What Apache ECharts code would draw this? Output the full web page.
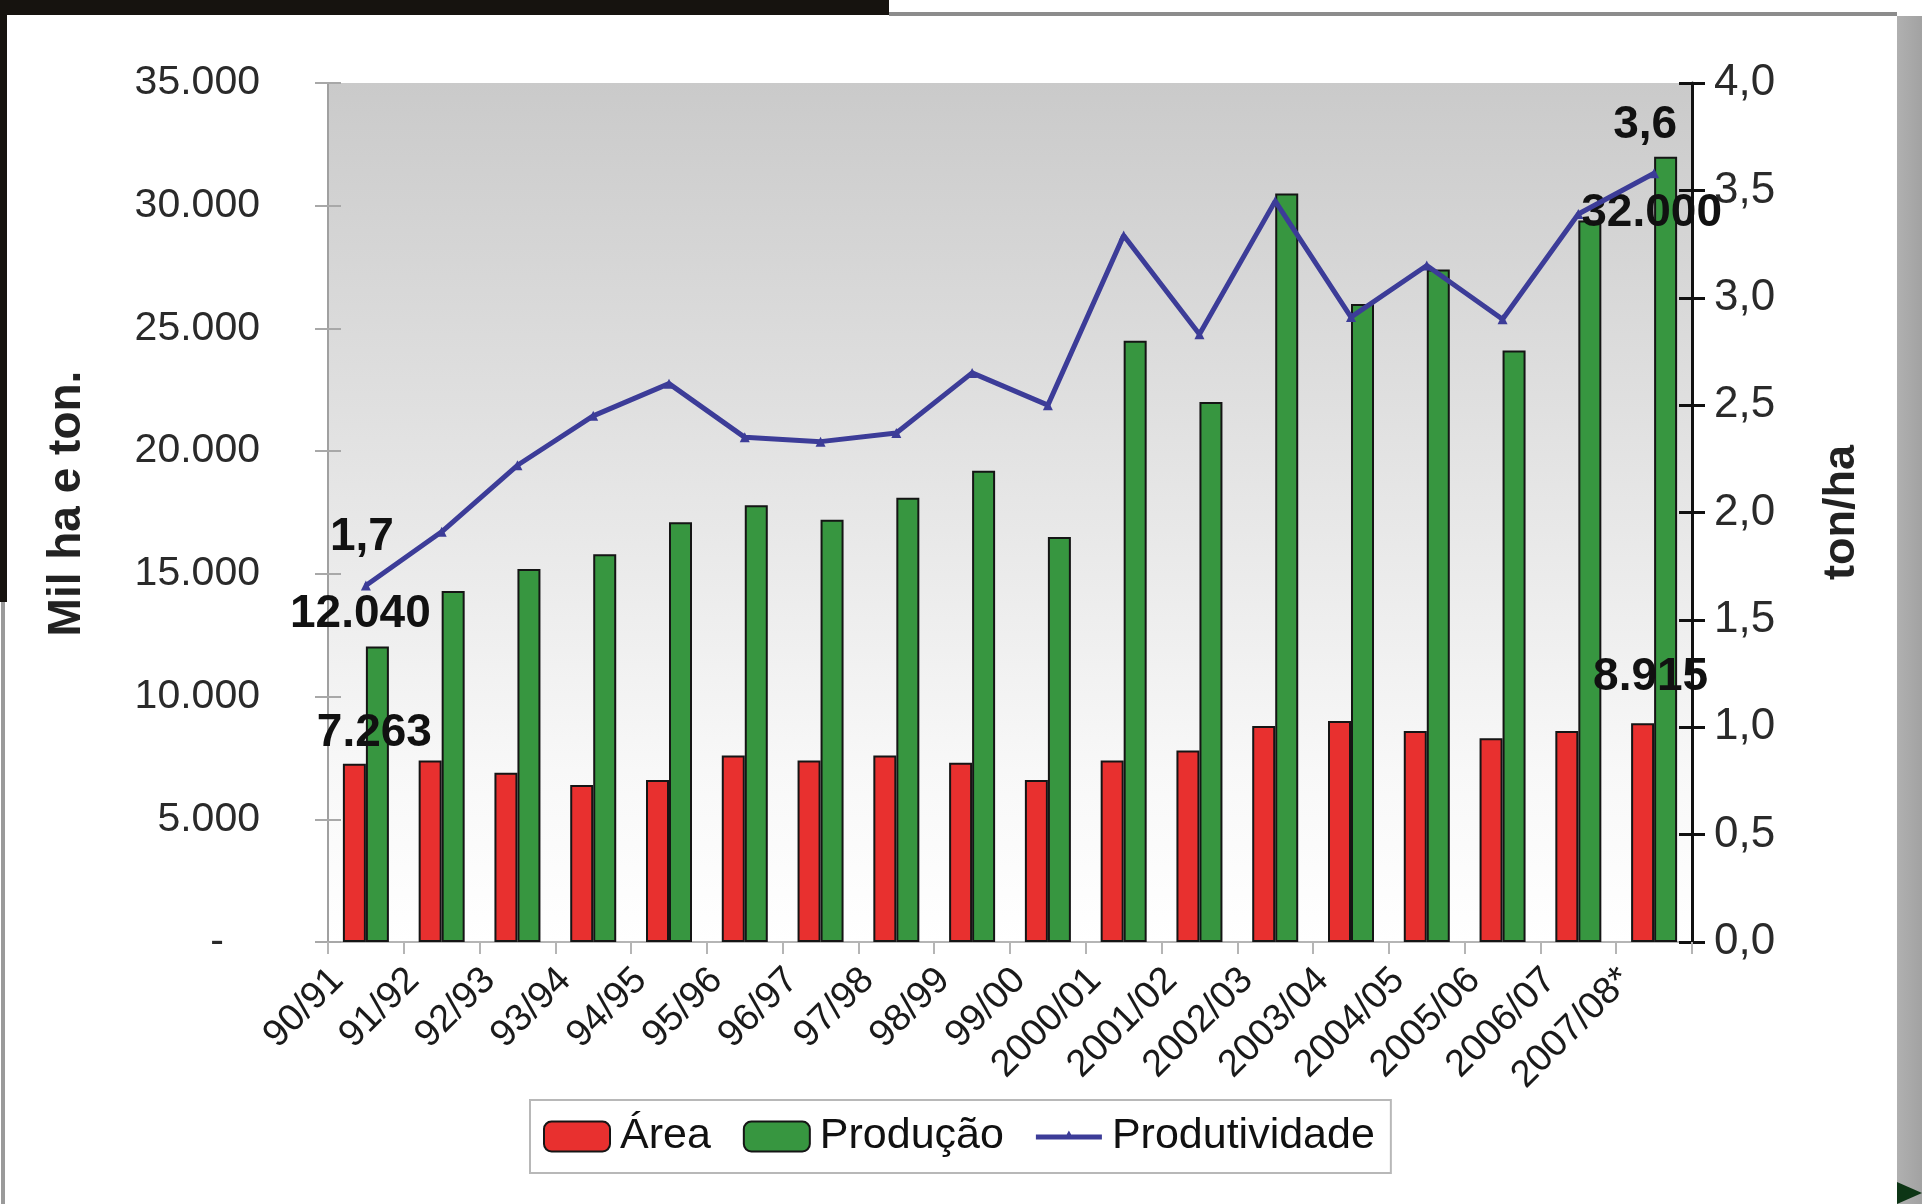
<!DOCTYPE html>
<html>
<head>
<meta charset="utf-8">
<style>
  html, body { margin: 0; padding: 0; background: #ffffff; }
  #chart { width: 1922px; height: 1204px; }
</style>
<script src="https://cdn.jsdelivr.net/npm/echarts@6/dist/echarts.min.js"></script>
</head>
<body>
<div id="chart"></div>
<script>
// ---- Data ----
const categories = ['90/91','91/92','92/93','93/94','94/95','95/96','96/97','97/98','98/99','99/00',
  '2000/01','2001/02','2002/03','2003/04','2004/05','2005/06','2006/07','2007/08*'];
const areaValues = [7263, 7400, 6900, 6400, 6600, 7600, 7400, 7600, 7300, 6600,
  7400, 7800, 8800, 9000, 8600, 8300, 8600, 8915];
const producaoValues = [12040, 14300, 15200, 15800, 17100, 17800, 17200, 18100, 19200, 16500,
  24500, 22000, 30500, 26000, 27400, 24100, 29400, 32000];
const produtividadeValues = [1.66, 1.91, 2.22, 2.45, 2.60, 2.35, 2.33, 2.37, 2.65, 2.50,
  3.29, 2.83, 3.45, 2.91, 3.15, 2.90, 3.39, 3.58];
const leftTicks = { min: 0, max: 35000, interval: 5000 };
const rightTicks = { min: 0, max: 4, interval: 0.5 };

// ---- Formatting helpers ----
function fmtThousands(v) {
  return String(Math.round(v)).replace(/\B(?=(\d{3})+(?!\d))/g, '.');
}
function fmtDecimal(v) {
  return v.toFixed(1).replace('.', ',');
}

const FONT = 'Liberation Sans, Arial, sans-serif';
const labelBase = { show: true, position: 'top', color: '#111', fontFamily: FONT, fontWeight: 'bold', fontSize: 46 };
function withLabels(values, labelCfgs, fmt) {
  return values.map((v, i) => labelCfgs[i]
    ? { value: v, label: Object.assign({}, labelBase, { formatter: () => fmt(v) }, labelCfgs[i]) }
    : v);
}
const last = categories.length - 1;
const areaLabels = { 0: { offset: [20, -2] } }; areaLabels[last] = { offset: [8, -18] };
const prodLabels = { 0: { offset: [-17, -4] } }; prodLabels[last] = { offset: [-14, 85] };
const pvLabels = { 0: { offset: [-4, -15] } }; pvLabels[last] = { offset: [-9, -15] };

const LINE_COLOR = '#3c3c98';
const lineLegendIcon = 'path://M0,0 L0.01,0 M66,30 L65.99,30 M0,13 L66,13 L66,18 L0,18 Z M28,18 L33,9 L38,18 Z';

const chart = echarts.init(document.getElementById('chart'), null, { renderer: 'canvas' });

const option = {
  animation: false,
  backgroundColor: '#ffffff',
  textStyle: { fontFamily: FONT },
  grid: {
    left: 328, right: 230, top: 83, bottom: 262,
    show: true, borderWidth: 0,
    backgroundColor: new echarts.graphic.LinearGradient(0, 0, 0, 1, [
      { offset: 0, color: '#cacaca' },
      { offset: 0.45, color: '#e4e4e4' },
      { offset: 0.8, color: '#f8f8f8' },
      { offset: 1, color: '#ffffff' }
    ])
  },
  legend: {
    left: 530, top: 1100,
    padding: [15, 16, 15, 13],
    borderColor: '#b8b8b8', borderWidth: 2,
    backgroundColor: '#ffffff',
    itemWidth: 66, itemHeight: 30, itemGap: 32,
    textStyle: { fontFamily: FONT, fontSize: 43, color: '#111', padding: [0, 0, 0, 5] },
    data: [
      { name: 'Área' },
      { name: 'Produção' },
      { name: 'Produtividade', icon: lineLegendIcon, itemStyle: { color: LINE_COLOR, borderWidth: 0 } }
    ]
  },
  xAxis: {
    type: 'category',
    data: categories,
    axisLine: { lineStyle: { color: '#b5b5b5', width: 2 } },
    axisTick: { show: true, length: 12, lineStyle: { color: '#b5b5b5', width: 2 } },
    axisLabel: {
      interval: 0, rotate: 45, margin: 4,
      fontFamily: FONT, fontSize: 38, color: '#1a1a1a',
      padding: [0, 40, 0, 0]
    }
  },
  yAxis: [
    {
      type: 'value', position: 'left',
      min: leftTicks.min, max: leftTicks.max, interval: leftTicks.interval,
      name: 'Mil ha e ton.', nameLocation: 'middle', nameRotate: 90, nameGap: 238,
      nameTextStyle: { fontFamily: FONT, fontWeight: 'bold', fontSize: 46, color: '#222', padding: [0, 0, 0, 18] },
      splitLine: { show: false },
      axisLine: { show: true, lineStyle: { color: '#a0a0a0', width: 2 } },
      axisTick: { show: true, length: 13, lineStyle: { color: '#a8a8a8', width: 2 } },
      axisLabel: {
        margin: 68, fontFamily: FONT, fontSize: 41, color: '#2a2a2a',
        formatter: v => v === 0 ? '{z|-}' : fmtThousands(v),
        rich: { z: { fontFamily: FONT, fontSize: 41, color: '#2a2a2a', padding: [0, 36, 0, 0] } }
      }
    },
    {
      type: 'value', position: 'right',
      min: rightTicks.min, max: rightTicks.max, interval: rightTicks.interval,
      name: 'ton/ha', nameLocation: 'middle', nameRotate: 90, nameGap: 127,
      nameTextStyle: { fontFamily: FONT, fontWeight: 'bold', fontSize: 45, color: '#222' },
      splitLine: { show: false },
      axisLine: { show: true, lineStyle: { color: '#111', width: 3 } },
      axisTick: { show: true, length: 13, lineStyle: { color: '#111', width: 3 } },
      axisLabel: {
        margin: 22, fontFamily: FONT, fontSize: 44, color: '#2a2a2a',
        formatter: v => fmtDecimal(v)
      }
    },
    {
      type: 'value', position: 'right',
      min: rightTicks.min, max: rightTicks.max, interval: rightTicks.interval,
      splitLine: { show: false }, axisLine: { show: false }, axisLabel: { show: false },
      axisTick: { show: true, inside: true, length: 13, lineStyle: { color: '#111', width: 3 } }
    },
    {
      type: 'value', position: 'left',
      min: leftTicks.min, max: leftTicks.max, interval: leftTicks.interval,
      splitLine: { show: false }, axisLine: { show: false }, axisLabel: { show: false },
      axisTick: { show: true, inside: true, length: 13, lineStyle: { color: '#a8a8a8', width: 2 } }
    }
  ],
  series: [
    {
      name: 'Área', type: 'bar', yAxisIndex: 0,
      barWidth: 23, barGap: '0%',
      itemStyle: { color: '#e8302f', borderColor: '#151515', borderWidth: 2 },
      data: withLabels(areaValues, areaLabels, fmtThousands),
      z: 2
    },
    {
      name: 'Produção', type: 'bar', yAxisIndex: 0,
      barWidth: 23, barGap: '0%',
      itemStyle: { color: '#379640', borderColor: '#151515', borderWidth: 2 },
      data: withLabels(producaoValues, prodLabels, fmtThousands),
      z: 2
    },
    {
      name: 'Produtividade', type: 'line', yAxisIndex: 1,
      symbol: 'triangle', symbolSize: 10,
      lineStyle: { color: LINE_COLOR, width: 5 },
      itemStyle: { color: LINE_COLOR },
      data: withLabels(produtividadeValues, pvLabels, fmtDecimal),
      z: 5
    }
  ],
  graphic: [
    { type: 'rect', left: 0, top: 0, shape: { width: 889, height: 15 }, style: { fill: '#16130f' }, z: 100 },
    { type: 'rect', left: 0, top: 0, shape: { width: 7, height: 602 }, style: { fill: '#16130f' }, z: 100 },
    { type: 'rect', left: 1, top: 602, shape: { width: 4, height: 602 }, style: { fill: '#9a9a9a' }, z: 100 },
    { type: 'rect', left: 889, top: 12, shape: { width: 1008, height: 4 }, style: { fill: '#8c8c8c' }, z: 100 },
    { type: 'rect', left: 1897, top: 16, shape: { width: 25, height: 1188 },
      style: { fill: new echarts.graphic.LinearGradient(0, 0, 1, 0, [
        { offset: 0, color: '#b0b0b0' }, { offset: 1, color: '#a2a2a2' }]) }, z: 100 },
    { type: 'polygon', shape: { points: [[1897, 1182], [1922, 1193], [1897, 1204]] }, style: { fill: '#0d3515' }, z: 101 }
  ]
};
chart.setOption(option);
</script>
</body>
</html>
